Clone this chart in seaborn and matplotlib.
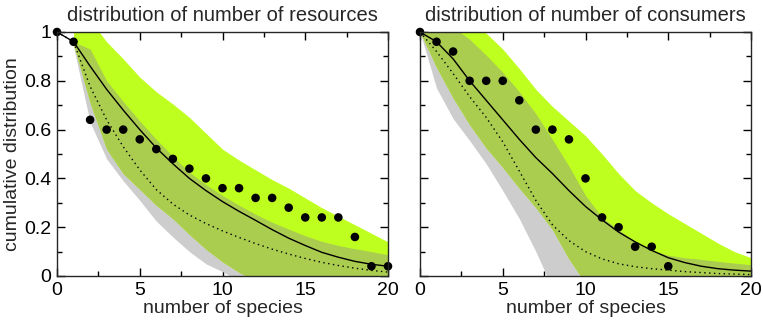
import numpy as np
import pandas as pd
import matplotlib
matplotlib.use("Agg")
import matplotlib.pyplot as plt
import seaborn as sns
from matplotlib.ticker import MultipleLocator, FuncFormatter

# ---------------- data ----------------
species = list(range(0, 21))

# resources panel
res_obs = [1.0, 0.96, 0.64, 0.60, 0.60, 0.56, 0.52, 0.48, 0.44, 0.40, 0.36,
           0.36, 0.32, 0.32, 0.28, 0.24, 0.24, 0.24, 0.16, 0.04, 0.04]
res_model_solid = [1.0, 0.96, 0.86, 0.765, 0.68, 0.60, 0.525, 0.46, 0.40, 0.35, 0.305,
                   0.265, 0.228, 0.19, 0.155, 0.125, 0.097, 0.077, 0.06, 0.048, 0.04]
res_model_dotted = [1.0, 0.96, 0.777, 0.64, 0.53, 0.435, 0.354, 0.295, 0.25, 0.215, 0.185,
                    0.158, 0.133, 0.11, 0.09, 0.072, 0.056, 0.043, 0.032, 0.023, 0.016]
res_band_x = list(range(1, 21))
res_green_hi = [1.05, 1.05, 0.96, 0.89, 0.815, 0.755, 0.705, 0.65, 0.585, 0.52,
                0.475, 0.435, 0.395, 0.36, 0.32, 0.28, 0.245, 0.21, 0.175, 0.14]
res_green_lo = [0.95, 0.71, 0.52, 0.42, 0.355, 0.29, 0.235, 0.17, 0.11, 0.058,
                0.015, -0.02, -0.05, -0.05, -0.05, -0.05, -0.05, -0.05, -0.05, -0.05]
res_grey_hi = [0.96, 0.93, 0.80, 0.715, 0.635, 0.56, 0.49, 0.425, 0.375, 0.33,
               0.29, 0.253, 0.22, 0.192, 0.165, 0.142, 0.125, 0.112, 0.10, 0.087]
res_grey_lo = [0.94, 0.63, 0.48, 0.39, 0.31, 0.225, 0.16, 0.10, 0.05, 0.018,
               -0.02, -0.05, -0.05, -0.05, -0.05, -0.05, -0.05, -0.05, -0.05, -0.05]

# consumers panel
con_obs_x = list(range(0, 16))
con_obs = [1.0, 0.96, 0.92, 0.80, 0.80, 0.80, 0.72, 0.60, 0.60, 0.56, 0.40,
           0.24, 0.20, 0.12, 0.12, 0.04]
con_model_solid = [1.0, 0.96, 0.89, 0.80, 0.72, 0.64, 0.56, 0.485, 0.42, 0.35, 0.285,
                   0.23, 0.18, 0.14, 0.105, 0.075, 0.055, 0.04, 0.03, 0.024, 0.02]
con_model_dotted = [1.0, 0.92, 0.83, 0.735, 0.65, 0.55, 0.43, 0.31, 0.21, 0.145, 0.10,
                    0.07, 0.05, 0.038, 0.03, 0.024, 0.018, 0.014, 0.01, 0.008, 0.006]
con_band_x = list(range(0, 21))
con_green_hi = [1.05, 1.05, 1.05, 1.05, 0.995, 0.93, 0.85, 0.765, 0.695, 0.635, 0.575,
                0.50, 0.42, 0.35, 0.30, 0.255, 0.215, 0.175, 0.135, 0.10, 0.075]
con_green_lo = [1.0, 0.855, 0.73, 0.62, 0.525, 0.445, 0.36, 0.28, 0.19, 0.07, -0.03,
                -0.05, -0.05, -0.05, -0.05, -0.05, -0.05, -0.05, -0.05, -0.05, -0.05]
con_grey_hi = [1.05, 1.05, 1.02, 0.97, 0.905, 0.835, 0.755, 0.665, 0.56, 0.45, 0.33,
               0.24, 0.19, 0.14, 0.105, 0.085, 0.075, 0.068, 0.06, 0.053, 0.046]
con_grey_lo = [1.0, 0.77, 0.645, 0.555, 0.46, 0.35, 0.235, 0.10, -0.05, -0.05, -0.05,
               -0.05, -0.05, -0.05, -0.05, -0.05, -0.05, -0.05, -0.05, -0.05, -0.05]

titles = ["distribution of number of resources", "distribution of number of consumers"]
xlabel = "number of species"
ylabel = "cumulative distribution"

BRIGHT = "#bfff1f"
OLIVE = "#aacc4f"
GREY = "#cdcdcd"

FS = 14

sns.set_style("ticks")
plt.rcParams["font.family"] = ["Liberation Sans", "DejaVu Sans"]
plt.rcParams["font.size"] = FS

fig = plt.figure(figsize=(7.63, 3.26), dpi=100)
ax1 = fig.add_axes([57 / 763, 1 - 276 / 326, 331 / 763, 244 / 326])
ax2 = fig.add_axes([420 / 763, 1 - 276 / 326, 331 / 763, 244 / 326])


def draw(ax, bx, ghi, glo, yhi, ylo, solid, dotted, ox, oy, title, show_y):
    bx = np.array(bx, float)
    ghi, glo, yhi, ylo = map(lambda a: np.array(a, float), (ghi, glo, yhi, ylo))
    # grey band, green band, and their overlap
    ax.fill_between(bx, ylo, yhi, color=GREY, lw=0, zorder=1)
    ax.fill_between(bx, glo, ghi, color=BRIGHT, lw=0, zorder=2)
    ov_lo = np.maximum(glo, ylo)
    ov_hi = np.minimum(ghi, yhi)
    ax.fill_between(bx, ov_lo, ov_hi, where=ov_hi > ov_lo, interpolate=True,
                    color=OLIVE, lw=0, zorder=3)
    df = pd.DataFrame({"x": species, "solid": solid, "dotted": dotted})
    sns.lineplot(data=df, x="x", y="solid", ax=ax, color="black", lw=1.0, zorder=4)
    sns.lineplot(data=df, x="x", y="dotted", ax=ax, color="black", lw=1.0,
                 linestyle=(0, (1, 2.5)), zorder=4)
    sns.scatterplot(x=ox, y=oy, ax=ax, color="black", s=38, edgecolor="none",
                    zorder=5, clip_on=False)
    ax.set_xlim(0, 20)
    ax.set_ylim(0, 1)
    ax.xaxis.set_major_locator(MultipleLocator(5))
    ax.xaxis.set_minor_locator(MultipleLocator(2.5))
    ax.yaxis.set_major_locator(MultipleLocator(0.2))
    ax.yaxis.set_minor_locator(MultipleLocator(0.1))
    ax.yaxis.set_major_formatter(FuncFormatter(lambda v, p: "%g" % round(v, 2)))
    ax.tick_params(which="both", direction="in", top=True, right=True,
                   width=1.0, colors="black", labelsize=FS, pad=4)
    ax.tick_params(which="major", length=6)
    ax.tick_params(which="minor", length=3.5)
    if not show_y:
        ax.tick_params(labelleft=False)
        ax.set_ylabel("")
    else:
        ax.set_ylabel(ylabel, fontsize=FS, labelpad=2)
    ax.set_xlabel(xlabel, fontsize=FS, labelpad=1)
    ax.set_title(title, fontsize=14.5, pad=8)
    for s in ax.spines.values():
        s.set_linewidth(1.0)
        s.set_zorder(6)


draw(ax1, res_band_x, res_green_hi, res_green_lo, res_grey_hi, res_grey_lo,
     res_model_solid, res_model_dotted, species, res_obs, titles[0], True)
draw(ax2, con_band_x, con_green_hi, con_green_lo, con_grey_hi, con_grey_lo,
     con_model_solid, con_model_dotted, con_obs_x, con_obs, titles[1], False)

fig.savefig("out.png", dpi=100)
